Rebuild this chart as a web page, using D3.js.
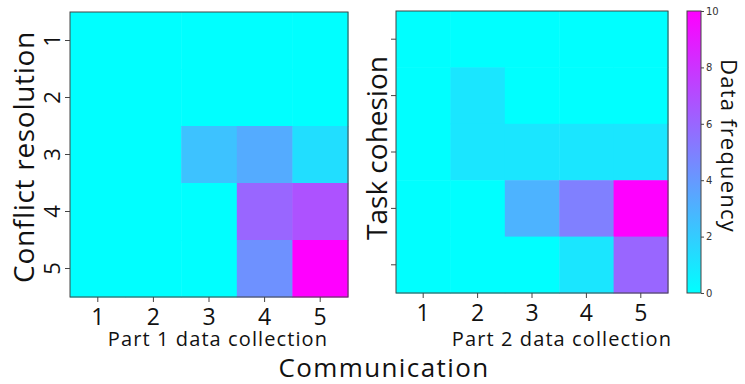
<!DOCTYPE html>
<html><head><meta charset="utf-8">
<script src="https://cdn.jsdelivr.net/npm/d3@7"></script>
<style>body{margin:0;background:#fff}svg{display:block}text{font-family:"Open Sans",Lato,sans-serif;fill:#111}</style>
</head><body><div id="chart"></div>
<script>
const xCats = ["1","2","3","4","5"];
const yCats = ["1","2","3","4","5"];
// rows = y category (top to bottom), columns = x category
const part1Values = [
  [0,0,0,0,0],
  [0,0,0,0,0],
  [0,0,2.4,3.3,1.3],
  [0,0,0,6,6.8],
  [0,0,0,4.3,10]
];
const part2Values = [
  [0,0,0,0,0],
  [0,1,0,0,0],
  [0,1,1,1,1],
  [0,0,3,5,10],
  [0,0,0,1,6]
];
const colorTicks = [0,2,4,6,8,10];
const panelTitles = ["Part 1 data collection","Part 2 data collection"];
const yTitles = ["Conflict resolution","Task cohesion"];
const xTitle = "Communication";
const cbarTitle = "Data frequency";

const W = 745, H = 384;
const svg = d3.select("#chart").append("svg").attr("width",W).attr("height",H);
const color = d3.scaleLinear().domain([0,10]).range(["#00ffff","#ff00ff"]).interpolate(d3.interpolateRgb);

const panels = [
  {vals: part1Values, x0:70, x1:348, y0:12, y1:297, showYLabels:true, title:panelTitles[0], yTitle:yTitles[0], yTitleX:34, yTitleY:157, yTitleLS:0.7, titleX:218, tickY:325},
  {vals: part2Values, x0:396, x1:668, y0:11, y1:293, showYLabels:false, title:panelTitles[1], yTitle:yTitles[1], yTitleX:387, yTitleY:148, yTitleLS:0, titleX:562, tickY:321}
];

panels.forEach(p => {
  const x = d3.scaleBand().domain(xCats).range([p.x0,p.x1]).padding(0);
  const y = d3.scaleBand().domain(yCats).range([p.y0,p.y1]).padding(0);
  const g = svg.append("g");
  const cells = [];
  p.vals.forEach((row,i)=>row.forEach((v,j)=>cells.push({xi:xCats[j], yi:yCats[i], v})));
  g.selectAll("rect.cell").data(cells).join("rect").attr("class","cell")
    .attr("x",d=>x(d.xi)).attr("y",d=>y(d.yi))
    .attr("width",x.bandwidth()+0.5).attr("height",y.bandwidth()+0.5)
    .attr("fill",d=>color(d.v));
  g.append("rect").attr("x",p.x0).attr("y",p.y0).attr("width",p.x1-p.x0).attr("height",p.y1-p.y0)
    .attr("fill","none").attr("stroke","#444").attr("stroke-width",1);
  // x axis
  const xa = g.append("g").attr("transform",`translate(0,${p.y1})`)
    .call(d3.axisBottom(x).tickSize(5).tickSizeOuter(0).tickFormat(()=>""));
  xa.select(".domain").remove();
  xa.selectAll("line").attr("stroke","#444");
  g.selectAll("text.xt").data(xCats).join("text").attr("class","xt")
    .attr("x",d=>x(d)+x.bandwidth()/2).attr("y",p.tickY)
    .attr("text-anchor","middle").attr("font-size",23).text(d=>d);
  // y axis
  const ya = g.append("g").attr("transform",`translate(${p.x0},0)`)
    .call(d3.axisLeft(y).tickSize(5).tickSizeOuter(0).tickFormat(()=>""));
  ya.select(".domain").remove();
  ya.selectAll("line").attr("stroke","#444");
  if (p.showYLabels) {
    g.selectAll("text.yt").data(yCats).join("text").attr("class","yt")
      .attr("transform",d=>`translate(${p.x0-10},${y(d)+y.bandwidth()/2}) rotate(-90)`)
      .attr("text-anchor","middle").attr("font-size",22).text(d=>d);
  }
  g.append("text").attr("x",p.titleX).attr("y",346).attr("text-anchor","middle")
    .attr("font-size",20).attr("letter-spacing",1.1).text(p.title);
  g.append("text").attr("transform",`translate(${p.yTitleX},${p.yTitleY}) rotate(-90)`)
    .attr("text-anchor","middle").attr("font-size",28).attr("letter-spacing",p.yTitleLS).text(p.yTitle);
});

svg.append("text").attr("x",384).attr("y",377).attr("text-anchor","middle").attr("font-size",26)
  .attr("letter-spacing",1.4).text(xTitle);

// colorbar
const cb = {x:687, w:14, y0:11, y1:293};
const cy = d3.scaleLinear().domain([0,10]).range([cb.y1,cb.y0]);
const defs = svg.append("defs");
const grad = defs.append("linearGradient").attr("id","cbg").attr("x1",0).attr("y1",1).attr("x2",0).attr("y2",0);
colorTicks.forEach(t=>grad.append("stop").attr("offset",t/10).attr("stop-color",color(t)));
svg.append("rect").attr("x",cb.x).attr("y",cb.y0).attr("width",cb.w).attr("height",cb.y1-cb.y0)
  .attr("fill","url(#cbg)").attr("stroke","#444").attr("stroke-width",1);
const ca = svg.append("g").attr("transform",`translate(${cb.x+cb.w},0)`)
  .call(d3.axisRight(cy).tickValues(colorTicks).tickSize(3).tickPadding(2));
ca.select(".domain").remove();
ca.selectAll("line").attr("stroke","#444");
ca.selectAll("text").style("font-family","'DejaVu Sans',sans-serif").attr("font-size",10).style("fill","#333");
svg.append("text").attr("transform",`translate(721,146) rotate(90)`).attr("text-anchor","middle")
  .attr("font-size",22).attr("letter-spacing",1.2).text(cbarTitle);
</script></body></html>
